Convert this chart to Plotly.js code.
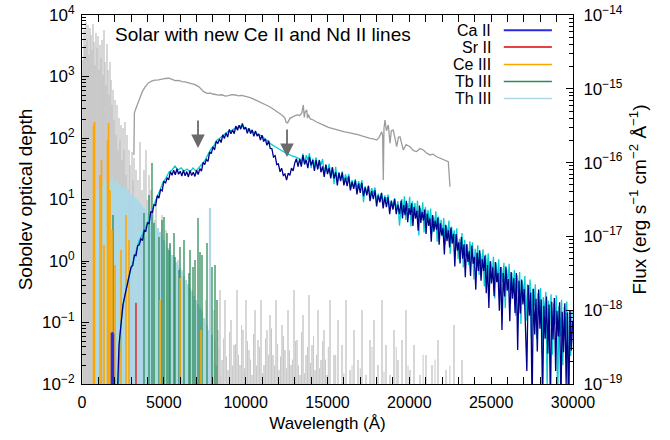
<!DOCTYPE html>
<html><head><meta charset="utf-8">
<script src="https://cdn.plot.ly/plotly-3.0.1.min.js"></script>
<style>html,body{margin:0;padding:0;background:#fff}#chart{width:670px;height:440px}</style>
</head><body><div id="chart"></div>
<script>
// ---- Model spectrum (navy), [wavelength Å, flux erg s^-1 cm^-2 Å^-1] ----
const modelNew = [[2140,5e-20],[2260,3.38e-19],[2380,6.30e-19],[2500,1.18e-18],[2630,1.61e-18],[2810,2.57e-18],
[3000,3.83e-18],[3100,4.05e-18],[3200,5.57e-18],[3300,5.49e-18],[3400,7.48e-18],[3500,7.71e-18],[3600,9.27e-18],[3700,8.81e-18],[3800,1.21e-17],[3900,1.18e-17],[4000,1.52e-17],[4100,1.49e-17],[4200,2.15e-17],[4300,2.12e-17],[4400,2.68e-17],[4500,2.63e-17],[4600,3.56e-17],[4700,3.31e-17],[4800,4.31e-17],[4900,4.14e-17],[5000,5.61e-17],[5100,5.26e-17],[5200,6.18e-17],[5300,5.87e-17],[5400,7.56e-17],[5500,6.72e-17],[5600,7.88e-17],[5700,6.84e-17],[5800,8.25e-17],[5900,6.96e-17],[6000,7.62e-17],[6100,6.59e-17],[6200,7.88e-17],[6300,6.62e-17],[6400,7.56e-17],[6500,6.39e-17],[6600,7.81e-17],[6700,6.67e-17],[6800,7.42e-17],[6900,6.5e-17],[7000,7.88e-17],[7100,6.9e-17],[7200,8.3e-17],[7300,7.65e-17],[7400,1.01e-16],[7500,9.4e-17],[7600,1.1e-16],[7700,1.04e-16],[7800,1.4e-16],[7900,1.32e-16],[8000,1.63e-16],[8100,1.49e-16],[8200,1.96e-16],[8300,1.81e-16],[8400,2.08e-16],[8500,1.87e-16],[8600,2.38e-16],[8700,2.12e-16],[8800,2.52e-16],[8900,2.22e-16],[9000,2.81e-16],[9100,2.46e-16],[9200,2.76e-16],[9300,2.47e-16],[9400,3.13e-16],[9500,2.74e-16],[9600,3.2e-16],[9700,2.84e-16],[9800,3.39e-16],[9900,2.82e-16],[10000,3.02e-16],[10100,2.49e-16],[10200,2.92e-16],[10300,2.47e-16],[10400,2.78e-16],[10500,2.27e-16],[10600,2.68e-16],[10700,2.29e-16],[10800,2.45e-16],[10900,2.02e-16],[11000,2.35e-16],[11100,1.93e-16],[11200,2.1e-16],[11300,1.71e-16],[11400,1.98e-16],[11500,1.56e-16],[11600,1.55e-16],[11700,1.19e-16],[11800,1.24e-16],[11900,9.4e-17],[12000,9.6e-17],[12100,7.5e-17],[12200,8.4e-17],[12300,6.7e-17],[12400,7.0e-17],[12500,5.8e-17],[12600,7.2e-17],[12700,6.7e-17],[12800,8.4e-17],[12900,7.7e-17],[13000,9.9e-17],
[13100,1.13e-16],[13200,8.8e-17],[13300,1.12e-16],[13400,8.8e-17],[13500,1.26e-16],[13600,9.5e-17],[13700,1.09e-16],[13800,8.4e-17],[13900,1.2e-16],[14000,9.2e-17],[14100,1.08e-16],[14200,7.7e-17],[14300,1.08e-16],[14400,8.1e-17],[14500,1.08e-16],[14600,7.4e-17],[14700,8.9e-17],[14800,6.4e-17],[14900,9.4e-17],[15000,7.0e-17],[15100,8.5e-17],[15200,6.1e-17],[15300,8.6e-17],[15400,6.1e-17],[15500,7.4e-17],[15600,4.9e-17],[15700,7.3e-17],[15800,5.6e-17],[15900,7.3e-17],[16000,4.9e-17],[16100,6.2e-17],[16200,4.8e-17],[16300,6.5e-17],[16400,4.2e-17],[16500,5.5e-17],[16600,4.4e-17],[16700,5.7e-17],[16800,3.7e-17],[16900,5.2e-17],[17000,3.9e-17],[17100,5.3e-17],[17200,3.5e-17],[17300,4.6e-17],[17400,3.6e-17],[17500,4.8e-17],[17600,3.0e-17],[17700,4.1e-17],[17800,3.2e-17],[17900,4.2e-17],[18000,2.55e-17],[18100,3.6e-17],[18200,2.9e-17],[18300,3.9e-17],[18400,2.4e-17],[18500,3.4e-17],[18600,2.5e-17],[18700,3.4e-17],[18800,2.0e-17],[18900,3.0e-17],[19000,2.3e-17],[19100,3.2e-17],[19200,2.0e-17],[19300,2.7e-17],[19400,2.0e-17],
[19500,3.05e-17],[19580,1.75e-17],[19660,2.65e-17],[19740,1.94e-17],[19820,3.04e-17],[19900,1.56e-17],[19980,2.42e-17],[20060,1.96e-17],[20140,2.8e-17],[20220,1.38e-17],[20300,2.5e-17],[20380,1.74e-17],[20460,2.22e-17],[20540,1.19e-17],[20620,2.62e-17],[20700,1.52e-17],[20780,2.14e-17],[20860,1.64e-17],[20940,2.31e-17],[21020,1.08e-17],[21100,2.03e-17],[21180,1.39e-17],[21260,1.75e-17],[21340,8.5e-18],[21420,1.95e-17],[21500,1.16e-17],[21580,1.62e-17],[21660,1.23e-17],[21740,1.8e-17],[21820,7.7e-18],[21900,1.5e-17],[21980,1.03e-17],[22060,1.29e-17],[22140,5.7e-18],[22220,1.44e-17],[22300,8.6e-18],[22380,1.21e-17],[22460,7.1e-18],[22540,1.32e-17],[22620,8.0e-18],[22700,1.08e-17],[22780,3.9e-18],[22860,1.08e-17],[22940,6.4e-18],[23020,8.3e-18],[23100,4.3e-18],[23180,9.8e-18],[23260,5.0e-18],[23340,7.8e-18],[23420,2.8e-18],[23500,7.8e-18],[23580,4.5e-18],[23660,6.3e-18],[23740,2.9e-18],[23820,7.5e-18],[23900,4.25e-18],[23980,5.3e-18],[24060,1.9e-18],[24140,6.0e-18],[24220,3.4e-18],[24300,6.5e-18],[24380,2.5e-18],[24460,4.9e-18],[24540,3.4e-18],[24620,5.5e-18],[24700,1.7e-18],[24780,4.1e-18],[24860,1.07e-18],[24940,4.6e-18],[25020,2.3e-18],[25100,3.8e-18],[25180,1.55e-18],[25260,4.5e-18],[25340,2.4e-18],[25420,3.2e-18],[25500,9.8e-19],[25580,3.85e-18],[25660,5.4e-19],[25740,3.2e-18],[25820,1.53e-18],[25900,3.9e-18],[25980,1.84e-18],[26060,2.64e-18],[26140,7.1e-19],[26220,3.3e-18],[26300,1.43e-18],[26380,2.7e-18],[26460,9.2e-19],[26540,3.2e-18],[26620,2.9e-19],[26700,2.5e-18],[26780,9.0e-19],[26860,2.6e-18],[26940,1.2e-18],[27020,1.94e-18],[27100,5.4e-19],[27180,1.5e-19],[27260,2.2e-18],[27340,8.4e-19],[27420,1.73e-18],[27500,5e-20],[27580,1.95e-18],[27660,4.7e-19],[27740,1.43e-18],[27820,2.75e-19],[27900,1.9e-18],[27980,5.6e-19],[28060,1.4e-18],[28140,5e-20],[28220,1.14e-18],[28300,4.1e-19],[28380,1.53e-18],[28460,2.6e-19],[28540,1.19e-18],[28620,5e-20],[28700,1.3e-18],[28780,4.0e-19],[28860,1.46e-18],[28940,1.5e-19],[29020,9.8e-19],[29100,4.4e-19],[29180,1.28e-18],[29260,5e-20],[29340,9.5e-19],[29420,2.7e-19],[29500,1.24e-18],[29580,1e-19],[29660,9.3e-19],[29740,5e-20],[29820,9.9e-19],[29900,2.85e-19],[29980,7.2e-19]];

// ---- Model spectrum (cyan) ----
const modelRef = [[2200,5e-20],[2320,4.61e-19],[2440,8.61e-19],[2570,1.37e-18],[2750,2.19e-18],[2930,3.30e-18],[3120,4.50e-18],[3300,6.54e-18],[3480,8.67e-18],[3670,1.045e-17],[3850,1.26e-17],[4030,1.57e-17],[4220,2.14e-17],[4400,2.74e-17],[4580,3.42e-17],[4770,4.25e-17],[4950,5.46e-17],[5130,6.18e-17],[5320,7.46e-17],[5500,7.94e-17],[5680,8.99e-17],[5870,7.94e-17],[6050,8.46e-17],[6230,7.70e-17],[6420,8.18e-17],[6600,7.46e-17],[6780,8.46e-17],[6970,7.70e-17],[7150,8.46e-17],[7330,9.56e-17],[7520,1.08e-16],[7700,1.31e-16],[7880,1.53e-16],[8070,1.73e-16],[8250,2.02e-16],[8430,2.15e-16],[8620,2.37e-16],[8800,2.52e-16],[8980,2.68e-16],[9170,2.76e-16],[9350,2.93e-16],[9530,3.03e-16],[9710,3.13e-16],[9900,3.03e-16],[10080,2.84e-16],[10260,2.76e-16],[10450,2.59e-16],[10630,2.52e-16],[10810,2.37e-16],[11000,2.30e-16],[11180,2.08e-16],[11360,1.96e-16],[11550,1.78e-16],[11730,1.68e-16],[11910,1.58e-16],[12100,1.48e-16],[12340,1.39e-16],[12590,1.31e-16],[12830,1.23e-16],[13080,1.19e-16],[13320,1.11e-16],
[13400,9.8e-17],[13500,1.32e-16],[13600,9.4e-17],[13700,1.26e-16],[13800,1.08e-16],[13900,1.34e-16],[14000,8.4e-17],[14100,1.13e-16],[14200,9.1e-17],[14300,1.18e-16],[14400,8.2e-17],[14500,1.09e-16],[14600,9.2e-17],[14700,1.12e-16],[14800,6.9e-17],[14900,9.2e-17],[15000,7.4e-17],[15100,9.6e-17],[15200,6.6e-17],[15300,8.7e-17],[15400,5.1e-17],[15500,8.8e-17],[15600,5.5e-17],[15700,7.3e-17],[15800,5.9e-17],[15900,7.6e-17],[16000,5.3e-17],[16100,6.9e-17],[16200,5.8e-17],[16300,7.0e-17],[16400,4.4e-17],[16500,5.8e-17],[16600,4.6e-17],[16700,6.0e-17],[16800,4.2e-17],[16900,5.6e-17],[17000,4.7e-17],[17100,5.8e-17],[17200,2.9e-17],[17300,4.8e-17],[17400,3.8e-17],[17500,4.9e-17],[17600,3.4e-17],[17700,4.5e-17],[17800,3.8e-17],[17900,4.6e-17],[18000,2.9e-17],[18100,3.8e-17],[18200,3.0e-17],[18300,3.9e-17],[18400,2.7e-17],[18500,3.6e-17],[18600,3.0e-17],[18700,3.7e-17],[18800,2.35e-17],[18900,3.1e-17],[19000,2.5e-17],[19100,3.3e-17],[19200,2.3e-17],[19300,3.0e-17],[19400,1.4e-17],
[19540,3.2e-17],[19620,2.07e-17],[19700,3.5e-17],[19780,1.67e-17],[19860,2.82e-17],[19940,2.21e-17],[20020,3.45e-17],[20100,1.36e-17],[20180,3.0e-17],[20260,1.98e-17],[20340,2.83e-17],[20420,1.82e-17],[20500,3.05e-17],[20580,1.03e-17],[20660,2.42e-17],[20740,1.88e-17],[20820,2.9e-17],[20900,1.13e-17],[20980,2.5e-17],[21060,1.63e-17],[21140,2.27e-17],[21220,1.45e-17],[21300,2.39e-17],[21380,1.12e-17],[21460,1.86e-17],[21540,1.43e-17],[21620,2.19e-17],[21700,8.5e-18],[21780,1.86e-17],[21860,1.2e-17],[21940,1.68e-17],[22020,1.0e-17],[22100,1.77e-17],[22180,7.7e-18],[22260,1.39e-17],[22340,1.07e-17],[22420,1.64e-17],[22500,5.8e-18],[22580,1.36e-17],[22660,8.7e-18],[22740,1.21e-17],[22820,7.1e-18],[22900,1.29e-17],[22980,4.9e-18],[23060,9.3e-18],[23140,6.7e-18],[23220,1.11e-17],[23300,3.8e-18],[23380,9.0e-18],[23460,5.4e-18],[23540,7.8e-18],[23620,4.1e-18],[23700,8.6e-18],[23780,5.0e-18],[23860,8.3e-18],[23940,2.6e-18],[24020,6.8e-18],[24100,4.15e-18],[24180,7.6e-18],[24260,3.0e-18],[24340,5.9e-18],[24420,3.9e-18],[24500,6.7e-18],[24580,2.1e-18],[24660,5.7e-18],[24740,3.15e-18],[24820,5.9e-18],[24900,2.2e-18],[24980,4.6e-18],[25060,3.1e-18],[25140,5.3e-18],[25220,1.44e-18],[25300,4.4e-18],[25380,2.45e-18],[25460,4.9e-18],[25540,1.6e-18],[25620,3.85e-18],[25700,2.4e-18],[25780,4.4e-18],[25860,1.06e-18],[25940,3.65e-18],[26020,2.3e-18],[26100,4.25e-18],[26180,1.22e-18],[26260,3.2e-18],[26340,1.83e-18],[26420,3.5e-18],[26500,8.4e-19],[26580,3.0e-18],[26660,1.71e-18],[26740,3.3e-18],[26820,6.5e-19],[26900,2.5e-18],[26980,1.57e-18],[27060,2.9e-18],[27140,7.2e-19],[27220,2.25e-18],[27300,1.19e-18],[27380,2.6e-18],[27460,4.1e-19],[27540,1.95e-18],[27620,1.13e-18],[27700,2.25e-18],[27780,4.1e-19],[27860,1.7e-18],[27940,8.7e-19],[28020,2.0e-18],[28100,2.6e-19],[28180,1.51e-18],[28260,8.8e-19],[28340,1.77e-18],[28420,9.2e-20],[28500,1.34e-18],[28580,6.2e-19],[28660,1.64e-18],[28740,2.5e-19],[28820,1.23e-18],[28900,6.5e-19],[28980,1.59e-18],[29060,5e-20],[29140,1.13e-18],[29220,4.4e-19],[29300,1.38e-18],[29380,1.8e-19],[29460,1.11e-18],[29540,4.7e-19],[29620,1.31e-18],[29700,5e-20],[29780,9.9e-19],[29860,2.4e-19],[29940,1.0e-18]];

// ---- Observed spectrum (grey) ----
const observed = [[3170,1.27e-16],[3200,4.70e-16],[3257,5.16e-16],[3400,6.3e-16],[3562,7.81e-16],[3700,9.3e-16],[3868,1.07e-15],[4075,1.21e-15],[4250,1.27e-15],[4450,1.31e-15],[4686,1.32e-15],[4900,1.36e-15],[5100,1.38e-15],[5297,1.39e-15],[5500,1.35e-15],[5701,1.29e-15],[5900,1.30e-15],[6110,1.25e-15],[6300,1.24e-15],[6500,1.21e-15],[6721,1.19e-15],[6900,1.14e-15],[7130,1.07e-15],[7300,9.9e-16],[7436,9.14e-16],[7638,8.69e-16],[7850,8.75e-16],[8000,8.5e-16],[8145,8.42e-16],[8350,8.2e-16],[8550,8.3e-16],[8756,7.98e-16],[8950,8.1e-16],[9150,8.35e-16],[9367,8.24e-16],[9550,8.0e-16],[9750,8.15e-16],[9978,7.81e-16],[10180,7.7e-16],[10387,7.43e-16],[10600,7.05e-16],[10800,6.75e-16],[10998,6.37e-16],[11200,6.2e-16],[11400,5.8e-16],[11609,5.45e-16],[11850,5.05e-16],[12098,4.66e-16],[12250,4.35e-16],[12403,3.98e-16],[12480,3.5e-16],[12560,3.45e-16],[12640,3.7e-16],[12709,3.98e-16],[12900,4.2e-16],[13118,4.42e-16],[13300,4.35e-16],[13423,4.66e-16],[13521,6.03e-16],[13580,4.1e-16],[13625,4.8e-16],[13729,5.16e-16],[13780,4.0e-16],[13827,4.5e-16],[13950,3.9e-16],[14132,3.78e-16],[14330,3.55e-16],[14542,3.41e-16],[14800,3.2e-16],[15050,3.0e-16],[15300,2.88e-16],[15562,2.76e-16],[15800,2.7e-16],[16050,2.6e-16],[16300,2.55e-16],[16577,2.49e-16],[16850,2.4e-16],[17100,2.3e-16],[17350,2.2e-16],[17597,2.13e-16],[17800,2.1e-16],[18006,2.02e-16],[18150,2.2e-16],[18312,2.62e-16],[18370,2.3e-16],[18410,5.81e-17],[18450,2.9e-16],[18514,3.78e-16],[18600,2.7e-16],[18715,3.23e-16],[18819,1.83e-16],[18900,2.7e-16],[19021,2.76e-16],[19120,2.1e-16],[19228,1.64e-16],[19330,2.2e-16],[19430,2.24e-16],[19632,1.48e-16],[19800,1.75e-16],[20041,1.64e-16],[20250,1.45e-16],[20450,1.41e-16],[20650,1.55e-16],[20854,1.48e-16],[21050,1.35e-16],[21263,1.27e-16],[21450,1.3e-16],[21672,1.20e-16],[21880,1.15e-16],[22076,1.08e-16],[22250,1.06e-16],[22381,1.03e-16],[22485,4.71e-17]];

// ---- Sobolev optical depths of lines, [wavelength Å, tau] ----
const otherLines = [[61,1850],[122,5700],[183,3250],[244,7690],[306,3920],[367,6880],[428,2240],[489,6150],[550,4730],[611,2700],[672,7140],[733,3640],[794,1540],[855,5090],[917,2910],[978,4560],[1039,1280],[1100,3250],[1161,2000],[1222,3920],[1283,1060],[1344,5700],[1405,1720],[1466,728],[1528,3380],[1589,1280],[1650,500],[1711,1720],[1772,877],[1833,344],[1894,603],[1955,196],[2016,415],[2077,112],[2139,344],[2200,63.8],[2261,211],[2322,92.8],[2383,163],[2444,43.9],[2505,145],[2566,63.8],[2627,182],[2688,25],[2750,112],[2811,14.3],[2872,63.8],[2933,36.4],[2994,9.81],[3055,59.2],[3116,20.8],[3177,47.3],[3238,5.59],[3299,30.2],[3361,9.81],[3422,20.8],[3483,3.19],[3544,86.1],[3605,6.75],[3666,14.3],[3727,2.19],[3788,30.2],[3849,4.64],[3910,63.8],[3972,9.81],[4033,1.51],[4094,25],[4155,3.19],[4216,14.3],[4277,2.19],[4338,6.75],[4399,1.04],[4460,4.64],[4521,9.81],[4583,1.51],[4644,3.19],[4705,0.491],[4766,2.19],[4888,5.59],[5010,1.04],[5132,3.19],[5255,0.592],[5377,1.82],[5499,0.338],[5621,1.25],[5743,0.232],[5866,1.04],[5988,0.16],[6110,0.714],[6232,0.11],[6354,0.491],[6477,0.232],[6599,0.0626],[6721,0.338],[6843,0.0357],[6965,0.232],[7088,0.0755],[7210,0.0246],[7332,0.16],[7454,0.0431],[7576,0.232],[7699,0.0169],[7821,0.11],[7943,0.0296],[8065,0.16],[8187,0.0204],[8310,0.0755],[8432,0.338],[8554,0.0246],[8737,0.232],[8921,0.0169],[9104,0.11],[9287,0.0431],[9471,0.338],[9654,0.0204],[9837,0.0755],[10020,0.232],[10204,0.0357],[10387,0.014],[10570,0.16],[10754,0.0519],[10937,0.232],[11120,0.0204],[11304,0.0755],[11487,0.132],[11670,0.0296],[11853,0.232],[12037,0.0169],[12220,0.091],[12403,0.0357],[12587,0.16],[12770,0.0204],[12953,0.338],[13137,0.0519],[13320,0.014],[13503,0.132],[13686,0.0296],[13870,0.28],[14053,0.0431],[14236,0.0169],[14420,0.16],[14603,0.0246],[14786,0.0755],[14970,0.014],[15153,0.232],[15397,0.0296],[15642,0.11],[15886,0.0431],[16130,0.232],[16375,0.0169],[16619,0.0755],[16864,0.0246],[17108,0.16],[17352,0.014],[17597,0.0519],[17841,0.11],[18086,0.0204],[18330,0.232],[18574,0.0431],[18819,0.014],[19063,0.0755],[19308,0.0246],[19552,0.0519],[19796,0.16],[20041,0.0169],[20285,0.0431],[20652,0.014],[21018,0.0296],[21385,0.0204],[21752,0.0519],[22240,0.0169],[22729,0.091],[23218,0.0246]];
const weakLines = [[7150,0.03],[7270,0.018],[7390,0.045],[7520,0.022],[7640,0.06],[7760,0.015],[7880,0.035],[8000,0.025],[8120,0.05],[8250,0.02],[8370,0.04],[8490,0.013],[8640,0.055],[8830,0.028],[9010,0.07],[9200,0.02],[9380,0.045],[9560,0.03],[9750,0.09],[9930,0.018],[10110,0.05],[10300,0.025],[10480,0.065],[10660,0.02],[10850,0.04],[11030,0.015],[11210,0.055],[11400,0.03],[11580,0.08],[11760,0.02],[11950,0.045],[12130,0.028],[12310,0.06],[12500,0.018],[12680,0.035],[12860,0.025],[13050,0.05],[13230,0.02],[13410,0.07],[13600,0.015],[13780,0.04],[13960,0.022],[14150,0.06],[14330,0.03],[14510,0.018],[14700,0.05],[14880,0.025],[15050,0.04],[15500,0.03],[16000,0.015],[16500,0.02],[17000,0.018],[17720,0.04],[18450,0.016],[19200,0.04],[19920,0.02],[20840,0.03],[21570,0.025],[22480,0.02]];

const thIIILines = [[855,9.81],[917,6.75],[978,14.3],[1039,9.81],[1100,17.2],[1161,11.8],[1222,8.14],[1283,17.2],[1344,13.3],[1405,20.8],[1466,9.81],[1528,15.4],[1589,22.4],[1650,11.8],[1711,18.5],[1772,14.3],[1833,23.2],[1894,11.4],[1955,17.2],[2016,13.3],[2077,20.8],[2139,10.6],[2200,16.6],[2261,12.3],[2322,17.9],[2383,9.81],[2444,15.4],[2505,11.4],[2566,16.6],[2627,9.1],[2688,14.3],[2750,10.6],[2811,13.3],[2872,8.14],[2933,12.8],[2994,9.81],[3055,11.8],[3116,7.28],[3177,11.0],[3238,8.45],[3299,10.6],[3361,6.27],[3422,9.81],[3483,7.28],[3544,8.78],[3605,5.59],[3666,8.14],[3727,6.27],[3788,7.28],[3849,4.64],[3910,6.75],[3972,5.0],[4033,6.03],[4094,3.85],[4155,5.59],[4216,3.44],[4277,5.0],[4338,2.96],[4399,4.31],[4460,2.65],[4521,3.85],[4583,2.19],[4644,3.44],[4705,1.82],[4766,2.96],[4827,1.63],[4888,2.55],[4949,1.4],[5010,2.19],[5071,1.25],[5132,1.89],[5194,1.12],[5255,1.63],[5316,0.964],[5377,1.4],[5438,0.861],[5499,1.25],[5560,0.714],[5621,1.12],[5682,0.662],[5743,0.964],[5805,0.57],[5866,0.861],[5927,0.491],[5988,0.769],[6049,0.423],[6110,0.662],[6171,0.364],[6232,0.57],[6293,0.313],[6354,0.491],[6416,0.27],[6477,0.423],[6538,0.232],[6599,0.364],[6660,0.193],[6721,0.313],[6782,0.16],[6843,0.27],[6904,0.132],[6965,0.232],[7027,0.11],[7088,0.2],[7149,0.091],[7210,0.172],[7271,0.0755],[7332,0.148],[7393,0.0626],[7454,0.118],[7515,0.102],[7576,0.0519],[7638,0.091],[7699,0.0431],[7760,0.0755],[7821,7.28],[7882,0.0357],[7943,0.0626]];

const tbIIILines = [[1589,11.8],[1894,5.59],[3788,6.03],[4094,11.8],[4277,39.2],[4399,4.15],[4705,2.46],[4888,4.64],[5010,5.19],[5194,2.85],[5316,1.51],[5377,1.96],[5621,2.85],[5682,1.16],[5927,0.714],[5988,1.69],[6232,2.19],[6538,0.638],[6599,1.51],[6782,0.798],[6904,1.04],[7088,5.0],[7210,1.4],[7332,1.25],[7638,1.96],[7943,0.798],[8126,0.861],[8249,0.232]];

const ceIIILines = [[703,163],[764,182],[1100,25.0],[1191,43.9],[1344,1.82],[1558,92.8],[1619,176],[1711,14.3],[1833,3.19],[2016,0.861],[2383,1.51],[2688,5.59],[2872,2.19],[4766,0.232],[5988,0.53],[7271,0.0755]];

const srIILines = [[3299,0.21]];
const caIILines = [[1800,0.068],[1860,0.07],[1920,0.066]];

// ---- Tick labels ----
const tauTickVals = [1e-2,1e-1,1e0,1e1,1e2,1e3,1e4];
const tauTickText = ['10<sup>\u22122</sup>','10<sup>\u22121</sup>','10<sup>0</sup>','10<sup>1</sup>','10<sup>2</sup>','10<sup>3</sup>','10<sup>4</sup>'];
const fluxTickVals = [1e-19,1e-18,1e-17,1e-16,1e-15,1e-14];
const fluxTickText = ['10<sup>\u221219</sup>','10<sup>\u221218</sup>','10<sup>\u221217</sup>','10<sup>\u221216</sup>','10<sup>\u221215</sup>','10<sup>\u221214</sup>'];
const wlTickVals = [0,5000,10000,15000,20000,25000,30000];

const legendNames = ['Ca II','Sr II','Ce III','Tb III','Th III'];
const legendColors = ['#2a2ae0','#e00000','#ffa500','#2e8b57','#add8e6'];

// ---- helpers ----
const col = (arr, i) => arr.map(p => p[i]);
function impulses(lines, color, width, name) {
  const x = [], y = [];
  lines.forEach(p => { x.push(p[0], p[0], null); y.push(1e-3, p[1], null); });
  return {x, y, type:'scatter', mode:'lines', name, line:{color, width}, hoverinfo:'skip', showlegend:false, yaxis:'y'};
}
function minorLog(e0, e1) {
  const v = [];
  for (let e = e0; e < e1; e++) for (let k = 2; k <= 9; k++) v.push(k * Math.pow(10, e));
  return v;
}

const FONT = 'Liberation Sans, Arial, Helvetica, sans-serif';

const traces = [
  impulses(otherLines, '#c2c2c2', 1.3, 'other'),
  impulses(weakLines, '#c8c8c8', 1, 'other weak'),
  impulses(thIIILines, '#add8e6', 2.2, 'Th III'),
  impulses(tbIIILines, '#2e8b57', 1.3, 'Tb III'),
  impulses(ceIIILines, '#ffa500', 1.6, 'Ce III'),
  impulses(srIILines, '#e00000', 1.2, 'Sr II'),
  impulses(caIILines, '#2a2ae0', 1.6, 'Ca II'),
  {x: col(observed,0), y: col(observed,1), type:'scatter', mode:'lines', yaxis:'y2', line:{color:'#9c9c9c', width:1.3}, showlegend:false},
  {x: col(modelRef,0), y: col(modelRef,1), type:'scatter', mode:'lines', yaxis:'y2', line:{color:'#00ced1', width:1.3}, showlegend:false},
  {x: col(modelNew,0), y: col(modelNew,1), type:'scatter', mode:'lines', yaxis:'y2', line:{color:'#00008b', width:1.3}, showlegend:false}
];

const annotations = [
  {text:'Solar with new Ce II and Nd II lines', xref:'paper', yref:'paper', x:0.063, y:0.946, xanchor:'left', yanchor:'middle', showarrow:false, font:{family:FONT, size:19, color:'#000'}},
  {x:7088, y:Math.log10(68.7), xref:'x', yref:'y', ax:0, ay:-29, showarrow:true, arrowhead:2, arrowsize:1.5, arrowwidth:1.8, arrowcolor:'#6a6a6a', text:''},
  {x:12526, y:Math.log10(49), xref:'x', yref:'y', ax:0, ay:-29, showarrow:true, arrowhead:2, arrowsize:1.5, arrowwidth:1.8, arrowcolor:'#6a6a6a', text:''}
];
const shapes = [];
const legendY = [0.959, 0.913, 0.866, 0.820, 0.774];
legendNames.forEach((n, i) => {
  annotations.push({text:n, xref:'paper', yref:'paper', x:0.838, y:legendY[i], xanchor:'right', yanchor:'middle', showarrow:false, font:{family:FONT, size:16, color:'#000'}});
  shapes.push({type:'line', xref:'paper', yref:'paper', x0:0.859, x1:0.957, y0:legendY[i], y1:legendY[i], line:{color:legendColors[i], width:i===0?2:1.5}});
});

const axisCommon = {showline:true, linecolor:'#000', linewidth:1, ticks:'inside', tickcolor:'#000', ticklen:7, tickwidth:1, showgrid:false, zeroline:false, tickfont:{family:FONT, size:17, color:'#000'}};

const layout = {
  width:670, height:440,
  margin:{l:82, r:97, t:15, b:56},
  paper_bgcolor:'#fff', plot_bgcolor:'#fff',
  font:{family:FONT, size:17, color:'#000'},
  showlegend:false,
  xaxis: Object.assign({}, axisCommon, {range:[0,30000], tickmode:'array', tickvals:wlTickVals, ticktext:wlTickVals.map(String), mirror:'allticks', ticklabelstandoff:4, tickfont:{family:FONT, size:16, color:'#000'},
    minor:{tickmode:'linear', tick0:0, dtick:1000, ticks:'inside', ticklen:4, tickcolor:'#000'},
    title:{text:'Wavelength (\u00C5)', font:{family:FONT, size:17}, standoff:6}}),
  yaxis: Object.assign({}, axisCommon, {type:'log', range:[-2,4], tickmode:'array', tickvals:tauTickVals, ticktext:tauTickText, mirror:true, ticklabelstandoff:3,
    minor:{tickmode:'array', tickvals:minorLog(-2,4), ticks:'inside', ticklen:4, tickcolor:'#000'},
    title:{text:'Sobolev optical depth', font:{family:FONT, size:19}, standoff:4}}),
  yaxis2: Object.assign({}, axisCommon, {type:'log', range:[-19,-14], overlaying:'y', side:'right', tickmode:'array', tickvals:fluxTickVals, ticktext:fluxTickText, ticklabelstandoff:6,
    minor:{tickmode:'array', tickvals:minorLog(-19,-14), ticks:'inside', ticklen:4, tickcolor:'#000'},
    title:{text:'Flux (erg s<sup>\u22121</sup> cm<sup>\u22122</sup> \u00C5<sup>\u22121</sup>)', font:{family:FONT, size:19}, standoff:10}}),
  annotations, shapes
};

Plotly.newPlot('chart', traces, layout, {staticPlot:true, displayModeBar:false});
</script></body></html>
